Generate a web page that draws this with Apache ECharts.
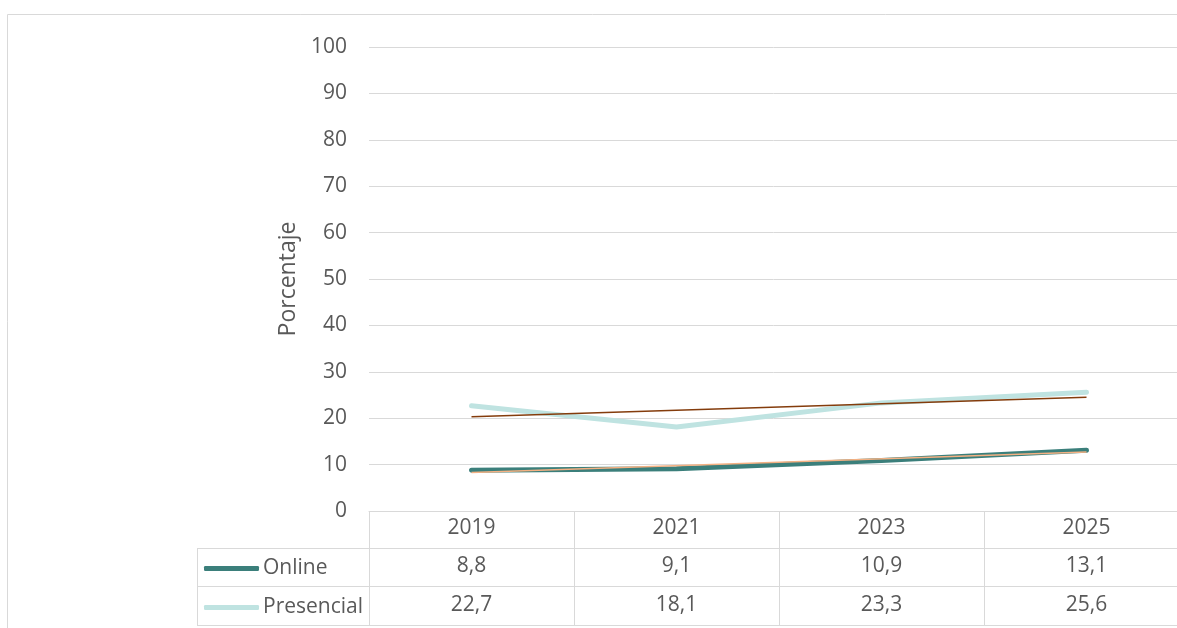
<!DOCTYPE html>
<html>
<head>
<meta charset="utf-8">
<script src="https://cdn.jsdelivr.net/npm/echarts@6/dist/echarts.min.js"></script>
<style>
  html, body { margin: 0; padding: 0; background: #fff; }
  #chart { width: 1177px; height: 628px; }
</style>
</head>
<body>
<div id="chart"></div>
<script>
// data
const years = ['2019', '2021', '2023', '2025'];
const online = [8.8, 9.1, 10.9, 13.1];
const presencial = [22.7, 18.1, 23.3, 25.6];
// linear trend end points (first and last year)
const trendOnline = [8.3, 12.7];
const trendPresencial = [20.3, 24.5];
const yTicks = { min: 0, max: 100, interval: 10 };

const fmt = v => v.toFixed(1).replace('.', ',');
const textColor = '#595959';
const lineColor = '#d9d9d9';
const font = 'Open Sans';
const fs = 21;

// table geometry (px) - the plot runs a little past the right edge, as in the source
const gridLeft = 369, gridWidth = 820, gridTop = 47, gridBottom = 117;
const tableLeft = 197;
const rowLines = [548, 586, 625];

const chart = echarts.init(document.getElementById('chart'));

const trendData = (ends) => [ends[0], null, null, ends[1]];

const valueAxis = (data, offset) => ({
  type: 'category',
  gridIndex: 0,
  position: 'bottom',
  offset: offset,
  data: data,
  axisLine: { show: false },
  axisTick: { show: false },
  axisLabel: { color: textColor, fontFamily: font, fontSize: fs, margin: 8 }
});

const legendItem = (name, top) => ({
  data: [name],
  left: 199, top: top,
  icon: 'roundRect', itemWidth: 55, itemHeight: 5,
  textStyle: { color: textColor, fontFamily: font, fontSize: fs, padding: [0, 0, 0, -1] },
  selectedMode: false
});

const options = {
  animation: false,
  textStyle: { fontFamily: font },
  grid: {
    left: gridLeft, width: gridWidth, top: gridTop, bottom: gridBottom,
    outerBoundsMode: 'none', containLabel: false
  },
  xAxis: [
    {
      type: 'category',
      data: years,
      axisLine: { show: true, lineStyle: { color: lineColor, width: 1 } },
      axisTick: { show: true, length: 114, lineStyle: { color: lineColor } },
      axisLabel: { color: textColor, fontFamily: font, fontSize: fs, margin: 7 }
    },
    valueAxis(online.map(fmt), 37),
    valueAxis(presencial.map(fmt), 76)
  ],
  yAxis: {
    type: 'value',
    min: yTicks.min,
    max: yTicks.max,
    interval: yTicks.interval,
    name: 'Porcentaje',
    nameLocation: 'middle',
    nameGap: 69,
    nameRotate: 90,
    nameTextStyle: { color: textColor, fontFamily: font, fontSize: 23 },
    axisLine: { show: false },
    axisTick: { show: false },
    axisLabel: { color: textColor, fontFamily: font, fontSize: fs, margin: 22 },
    splitLine: { lineStyle: { color: lineColor, width: 1 } }
  },
  legend: [legendItem('Online', 553), legendItem('Presencial', 592)],
  series: [
    {
      name: 'Online', type: 'line', data: online,
      symbol: 'none', z: 2,
      itemStyle: { color: '#3b7f7b' },
      lineStyle: { color: '#3b7f7b', width: 5, cap: 'round', join: 'round' }
    },
    {
      name: 'Presencial', type: 'line', data: presencial,
      symbol: 'none', z: 2,
      itemStyle: { color: '#bfe3e1' },
      lineStyle: { color: '#bfe3e1', width: 5, cap: 'round', join: 'round' }
    },
    {
      name: 'Tendencia Online', type: 'line', data: trendData(trendOnline),
      connectNulls: true, symbol: 'none', silent: true, z: 3,
      lineStyle: { color: '#f4b183', width: 1.5 }
    },
    {
      name: 'Tendencia Presencial', type: 'line', data: trendData(trendPresencial),
      connectNulls: true, symbol: 'none', silent: true, z: 3,
      lineStyle: { color: '#843c0c', width: 1.5 }
    }
  ],
  graphic: [
    {
      type: 'rect', silent: true, z: -1,
      shape: { x: 7.5, y: 14.5, width: 1200, height: 700 },
      style: { fill: null, stroke: lineColor, lineWidth: 1 }
    },
    ...rowLines.map(y => ({
      type: 'line', silent: true,
      shape: { x1: tableLeft, y1: y + 0.5, x2: 1177, y2: y + 0.5 },
      style: { stroke: lineColor, lineWidth: 1 }
    })),
    {
      type: 'line', silent: true,
      shape: { x1: tableLeft + 0.5, y1: rowLines[0], x2: tableLeft + 0.5, y2: rowLines[2] },
      style: { stroke: lineColor, lineWidth: 1 }
    }
  ]
};
options && chart.setOption(options);
</script>
</body>
</html>
